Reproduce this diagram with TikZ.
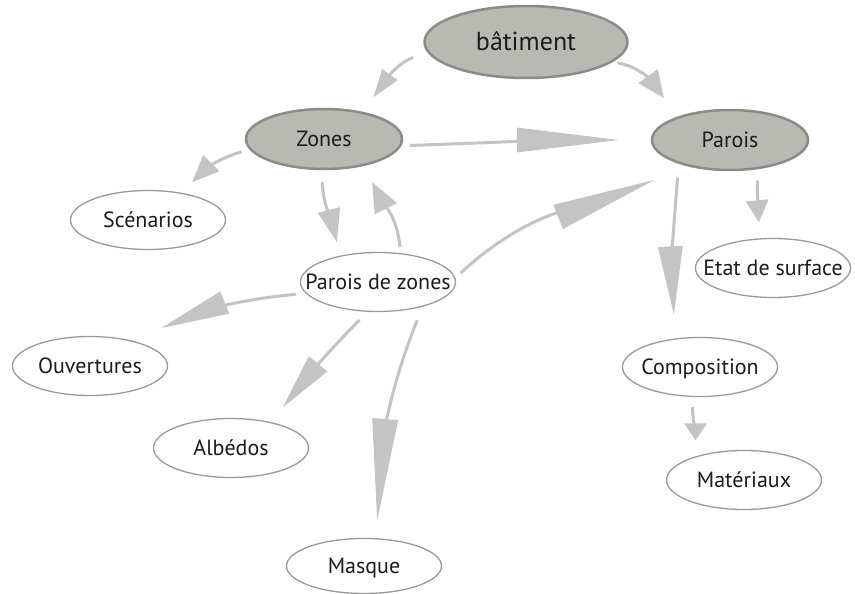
\documentclass[tikz,border=0pt]{standalone}
\usepackage{fontspec}
\setmainfont{PT Sans}
\usetikzlibrary{shapes.geometric,arrows.meta}
\definecolor{arrgray}{HTML}{C4C4C4}
\definecolor{nodegray}{HTML}{B7B9B2}
\definecolor{nodeedge}{HTML}{8A8C86}
\definecolor{wedge}{HTML}{9A9A9A}
\definecolor{txt}{HTML}{1C1C1C}
\begin{document}
\begin{tikzpicture}[x=1pt,y=1pt,
  every label/.style={text=txt, inner sep=0pt, text height=15pt, text depth=0pt},
  mainnode/.style={ellipse, draw=nodeedge, line width=2.5pt, fill=nodegray,
    minimum width=156pt, minimum height=60pt, inner sep=0pt,
    label={[font=\fontsize{22}{26}\selectfont]center:#1}},
  subnode/.style={ellipse, draw=wedge, line width=1.3pt, fill=white,
    minimum width=155pt, minimum height=59pt, inner sep=0pt,
    label={[font=\fontsize{22}{26}\selectfont]center:#1}},
  arr/.style={draw=arrgray, line width=3pt},
  hd/.style n args={2}{-{Triangle[length=#1pt,width=#2pt,line width=0pt]}}
]
\useasboundingbox (0,0) rectangle (855,-594);
\fill[white] (0,0) rectangle (855,-594);

\node[ellipse, draw=nodeedge, line width=2.5pt, fill=nodegray, inner sep=0pt,
  minimum width=203pt, minimum height=72pt,
  label={[font=\fontsize{26}{30}\selectfont, text height=17pt, text depth=0pt]center:bâtiment}] (bat) at (526,-42) {};
\node[mainnode=Zones] (zones) at (324,-139) {};
\node[mainnode=Parois] (parois) at (730,-140) {};
\node[subnode=Scénarios] (scen) at (148,-220) {};
\node[subnode=Parois de zones] (pdz) at (378,-282) {};
\node[subnode=Ouvertures] (ouv) at (90,-366) {};
\node[subnode=Albédos] (alb) at (231,-448) {};
\node[subnode=Masque, minimum height=55pt] (masq) at (364,-566) {};
\node[subnode=Etat de surface] (etat) at (773,-268) {};
\node[subnode=Composition] (comp) at (700,-367) {};
\node[subnode=Matériaux] (mat) at (744,-480) {};

\draw[arr, hd={28}{19}, shorten <=15pt, shorten >=18pt] (bat.186) to[out=200,in=54] (zones.35.5);
\draw[arr, hd={27}{24}, shorten <=5pt, shorten >=23pt] (bat.347) to[out=350,in=126] (parois.156);
\draw[arr, hd={102}{25}, shorten <=8.5pt, shorten >=32pt] (zones.355.6) to[out=2,in=180] (parois.180);
\draw[arr, hd={27}{23}, shorten <=8pt, shorten >=15pt] (zones.188.3) to[out=196,in=45] (scen.39.3);
\draw[arr, hd={33}{23}, shorten <=12pt, shorten >=14pt] (zones.266.3) to[out=272,in=104] (pdz.145);
\draw[arr, hd={30}{25}, shorten <=6pt, shorten >=18pt] (pdz.52.6) to[out=95,in=297] (zones.326);
\draw[arr, hd={103}{26}, shorten <=7pt, shorten >=37pt] (pdz.3.9) to[out=43,in=201] (parois.213.6);
\draw[arr, hd={68}{24}, shorten <=10pt, shorten >=33pt] (pdz.189.5) to[out=185,in=22] (ouv.32.8);
\draw[arr, hd={56}{24}, shorten <=11.5pt, shorten >=19pt] (pdz.251.7) to[out=225,in=51] (alb.33.8);
\draw[arr, hd={102}{26}, shorten <=14.5pt, shorten >=17.5pt] (pdz.331) to[out=248,in=85.5] (masq.67.9);
\draw[arr, hd={22}{23}, shorten <=11pt, shorten >=16pt] (parois.313) to[out=270,in=95] (etat.113.7);
\draw[arr, hd={68}{25}, shorten <=14pt, shorten >=24pt] (parois.205.5) to[out=265,in=93] (comp.131.4);
\draw[arr, hd={17}{23}, shorten <=10pt, shorten >=16pt] (comp.256.8) to[out=270,in=90] (mat.154.3);
\end{tikzpicture}
\end{document}
